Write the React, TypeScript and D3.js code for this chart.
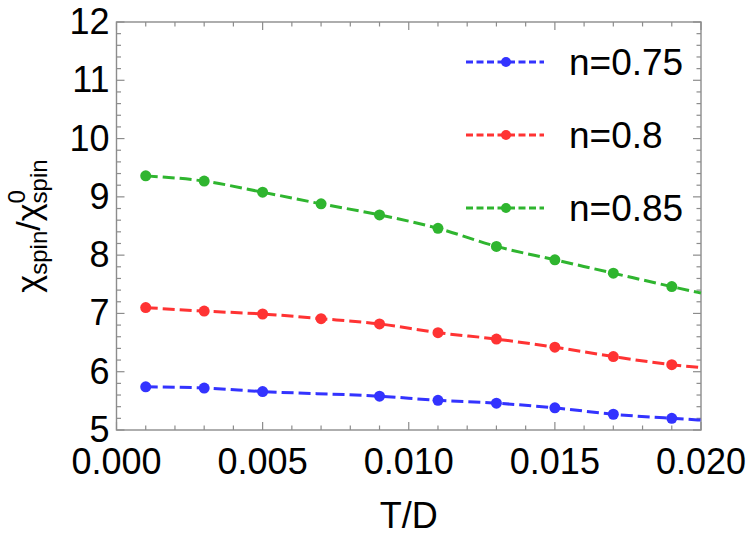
import { useEffect, useRef } from 'react';
import * as d3 from 'd3';

// temperatures of the computed points
const tValues = [0.001, 0.003, 0.005, 0.007, 0.009, 0.011, 0.013, 0.015, 0.017, 0.019];

// chi_spin / chi0_spin for each filling (null = no marker drawn)
const chiN075 = [5.74, 5.72, 5.66, null, 5.58, 5.51, 5.46, 5.38, 5.27, 5.2];
const chiN080 = [7.1, 7.04, 6.99, 6.91, 6.82, 6.67, 6.56, 6.42, 6.26, 6.12];
const chiN085 = [9.36, 9.27, 9.08, 8.88, 8.69, 8.46, 8.15, 7.92, 7.69, 7.46];

// where the dashed curves leave the frame at T/D = 0.02
const tEnd = 0.02;
const chiEnd = [5.17, 6.07, 7.35];

const seriesNames = ['n=0.75', 'n=0.8', 'n=0.85'];
const seriesColors = ['#3333ff', '#ff3333', '#2fb52f'];

const xTickLabels = ['0.000', '0.005', '0.010', '0.015', '0.020'];
const yTickLabels = ['5', '6', '7', '8', '9', '10', '11', '12'];

const W = 750;
const H = 540;
const margin = { left: 116.5, right: 49, top: 22, bottom: 110 };
const FONT = '"Liberation Sans", Arial, sans-serif';

function App() {
    const ref = useRef<SVGSVGElement>(null);

    useEffect(() => {
        const svg = d3.select(ref.current);
        svg.selectAll('*').remove();

        const x = d3.scaleLinear()
            .domain([0, 0.02])
            .range([margin.left, W - margin.right]);
        const y = d3.scaleLinear()
            .domain([5, 12])
            .range([H - margin.bottom, margin.top]);

        const x0 = x.range()[0], x1 = x.range()[1];
        const y0 = y.range()[0], y1 = y.range()[1];
        const frameColor = '#8c8c8c';

        // Ticks (inward, all four sides)
        const g = svg.append('g').attr('stroke', frameColor).attr('stroke-width', 1.2);
        const xMinor = d3.range(0, 21).map(i => i * 0.001);
        xMinor.forEach((v, i) => {
            const len = i % 5 === 0 ? 8 : 4.5;
            g.append('line').attr('x1', x(v)).attr('x2', x(v)).attr('y1', y0).attr('y2', y0 - len);
            g.append('line').attr('x1', x(v)).attr('x2', x(v)).attr('y1', y1).attr('y2', y1 + len);
        });
        const yMinor = d3.range(0, 36).map(i => 5 + i * 0.2);
        yMinor.forEach((v, i) => {
            const len = i % 5 === 0 ? 8 : 4.5;
            g.append('line').attr('y1', y(v)).attr('y2', y(v)).attr('x1', x0).attr('x2', x0 + len);
            g.append('line').attr('y1', y(v)).attr('y2', y(v)).attr('x1', x1).attr('x2', x1 - len);
        });

        // Frame
        svg.append('rect')
            .attr('x', x0).attr('y', y1)
            .attr('width', x1 - x0).attr('height', y0 - y1)
            .attr('fill', 'none')
            .attr('stroke', frameColor)
            .attr('stroke-width', 1.4);

        // Tick labels
        svg.append('g').selectAll('text')
            .data(xTickLabels)
            .enter()
            .append('text')
            .attr('x', (d) => x(+d))
            .attr('y', y0 + 44)
            .attr('text-anchor', 'middle')
            .attr('font-family', FONT)
            .attr('font-size', 36)
            .text(d => d);

        svg.append('g').selectAll('text')
            .data(yTickLabels)
            .enter()
            .append('text')
            .attr('x', x0 - 7)
            .attr('y', d => y(+d) + 12)
            .attr('text-anchor', 'end')
            .attr('font-family', FONT)
            .attr('font-size', 36)
            .text(d => d);

        // Axis labels
        svg.append('text')
            .attr('x', (x0 + x1) / 2)
            .attr('y', y0 + 98)
            .attr('text-anchor', 'middle')
            .attr('font-family', FONT)
            .attr('font-size', 36)
            .text('T/D');

        const yl = svg.append('text')
            .attr('transform', `translate(40,${(y0 + y1) / 2}) rotate(-90)`)
            .attr('text-anchor', 'middle')
            .attr('font-family', FONT)
            .attr('font-size', 34);
        yl.append('tspan').text('χ');
        yl.append('tspan').attr('font-size', 24).attr('dy', 7).text('spin');
        yl.append('tspan').attr('dy', -7).text('/χ');
        yl.append('tspan').attr('font-size', 24).attr('dy', -15).text('0');
        yl.append('tspan').attr('font-size', 24).attr('dx', -13.3).attr('dy', 22).text('spin');

        // Series
        const allSeries = [chiN075, chiN080, chiN085];
        const line = d3.line<[number, number]>()
            .x(d => x(d[0]))
            .y(d => y(d[1]))
            .curve(d3.curveMonotoneX);

        allSeries.forEach((vals, si) => {
            const pts: [number, number][] = [];
            tValues.forEach((t, i) => {
                if (vals[i] !== null) pts.push([t, vals[i] as number]);
            });
            const linePts: [number, number][] = [...pts, [tEnd, chiEnd[si]]];

            svg.append('path')
                .datum(linePts)
                .attr('d', line)
                .attr('fill', 'none')
                .attr('stroke', seriesColors[si])
                .attr('stroke-width', 3)
                .attr('stroke-dasharray', '12,5');

            svg.append('g')
                .selectAll('circle')
                .data(pts)
                .enter()
                .append('circle')
                .attr('cx', d => x(d[0]))
                .attr('cy', d => y(d[1]))
                .attr('r', 5.5)
                .attr('fill', seriesColors[si]);
        });

        // Legend
        const legendY = [62, 135, 208];
        seriesNames.forEach((name, si) => {
            const lg = svg.append('g');
            lg.append('line')
                .attr('x1', 466).attr('x2', 544)
                .attr('y1', legendY[si]).attr('y2', legendY[si])
                .attr('stroke', seriesColors[si])
                .attr('stroke-width', 3)
                .attr('stroke-dasharray', '7,3.5');
            lg.append('circle')
                .attr('cx', 506).attr('cy', legendY[si])
                .attr('r', 5)
                .attr('fill', seriesColors[si]);
            lg.append('text')
                .attr('x', 569)
                .attr('y', legendY[si] + 12.5)
                .attr('font-family', FONT)
                .attr('font-size', 37)
                .text(name);
        });
    }, []);

    return (
        <svg ref={ref} width={W} height={H}
            style={{ position: 'absolute', left: 0, top: 0, background: '#fff' }} />
    );
}

export default App;
